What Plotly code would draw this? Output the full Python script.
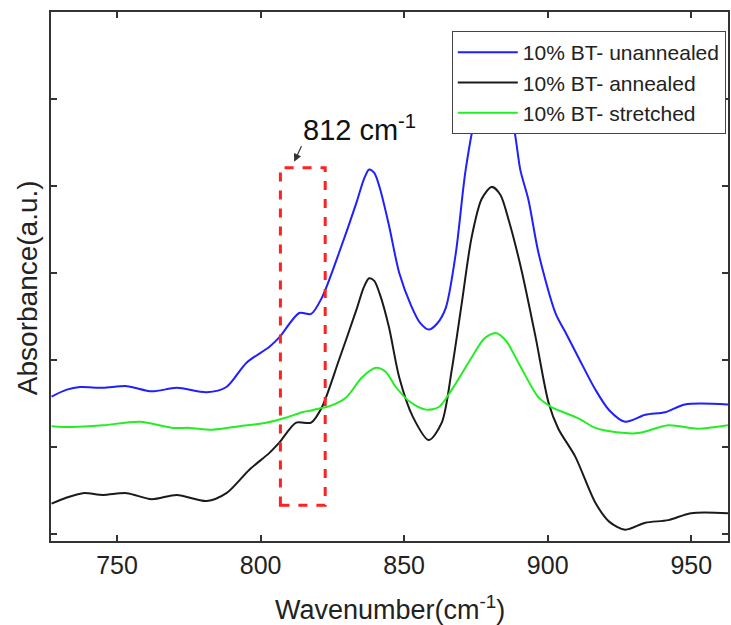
import plotly.graph_objects as go

# ---- data ----
unannealed_x = [727.2, 732.5, 737.1, 745.1, 753.4, 762.1, 770.8, 781.2, 788.1, 795.1, 803.0, 806.5,
                813.5, 817.6, 821.4, 827.3, 833.3, 836.0, 837.8, 839.6, 841.5, 844.7, 848.3, 852.5,
                855.5, 858.6, 861.5, 864.5, 868.0, 871.4, 874.9, 878.0, 881.0, 884.0, 887.4, 890.5,
                893.3, 896.8, 902.7, 906.0, 910.7, 916.6, 921.5, 927.0, 934.0, 940.9, 947.8, 962.8]
unannealed_y = [1.58, 1.66, 1.69, 1.68, 1.70, 1.64, 1.68, 1.63, 1.69, 1.97, 2.15, 2.26,
                2.54, 2.53, 2.72, 3.23, 3.80, 4.08, 4.19, 4.15, 3.98, 3.55, 3.00, 2.62,
                2.43, 2.35, 2.42, 2.60, 3.23, 4.18, 4.79, 4.97, 5.02, 4.97, 4.79, 4.18,
                3.84, 3.23, 2.54, 2.33, 2.03, 1.66, 1.42, 1.29, 1.37, 1.40, 1.49, 1.49]

annealed_x = [727.2, 732.5, 738.1, 745.1, 753.4, 762.1, 770.8, 781.2, 788.1, 796.1, 803.0, 806.5,
              812.4, 817.6, 821.4, 827.3, 833.3, 836.0, 837.8, 839.6, 841.5, 844.7, 848.3, 853.0,
              858.6, 863.1, 866.6, 870.1, 873.5, 877.0, 880.5, 883.5, 886.4, 890.9, 895.8, 900.3,
              903.7, 909.6, 916.6, 921.5, 927.0, 934.0, 942.0, 949.9, 962.8]
annealed_y = [0.35, 0.42, 0.47, 0.45, 0.47, 0.40, 0.45, 0.38, 0.47, 0.74, 0.93, 1.05,
              1.28, 1.28, 1.46, 2.00, 2.57, 2.84, 2.94, 2.91, 2.76, 2.38, 1.80, 1.35,
              1.08, 1.28, 1.89, 2.66, 3.41, 3.85, 3.99, 3.90, 3.61, 3.03, 2.26, 1.51,
              1.21, 0.89, 0.36, 0.14, 0.05, 0.13, 0.16, 0.24, 0.24]

stretched_x = [727.2, 734.6, 745.1, 757.9, 769.4, 775.3, 783.3, 792.6, 802.0, 809.0, 814.5, 817.6,
               821.4, 824.0, 829.8, 835.3, 840.2, 843.7, 847.1, 852.0, 857.6, 862.1, 866.6, 873.5,
               878.0, 881.9, 885.5, 889.8, 896.8, 901.3, 905.5, 910.7, 916.6, 924.0, 931.5, 942.0,
               952.3, 962.8]
stretched_y = [1.24, 1.23, 1.25, 1.29, 1.22, 1.22, 1.20, 1.24, 1.28, 1.34, 1.40, 1.42,
               1.45, 1.47, 1.57, 1.80, 1.91, 1.86, 1.69, 1.52, 1.43, 1.46, 1.66, 2.03,
               2.25, 2.31, 2.22, 1.97, 1.57, 1.46, 1.40, 1.33, 1.22, 1.17, 1.16, 1.25,
               1.21, 1.25]

series_names = ["10% BT- unannealed", "10% BT- annealed", "10% BT- stretched"]
series_colors = ["#1f1fff", "#1a1a1a", "#22ee22"]

x_ticks = [750, 800, 850, 900, 950]
y_ticks = [0, 1, 2, 3, 4, 5]

# highlight box around the 812 cm-1 band
box_x = [806.9, 822.5]
box_y = [0.33, 4.21]
arrow_tip = (811.7, 4.28)
label_pos = (0.455, 0.78)  # paper coords of the "812 cm-1" label

FONT = "Liberation Sans, Arial, Helvetica, sans-serif"

fig = go.Figure()
for xs, ys, name, col in zip([unannealed_x, annealed_x, stretched_x],
                             [unannealed_y, annealed_y, stretched_y],
                             series_names, series_colors):
    fig.add_trace(go.Scatter(x=xs, y=ys, mode="lines", name=name,
                             line=dict(color=col, width=2, shape="spline", smoothing=0.8)))

fig.add_shape(type="rect", x0=box_x[0], x1=box_x[1], y0=box_y[0], y1=box_y[1],
              xref="x", yref="y", line=dict(color="#ff2020", width=3, dash="dash"))

fig.add_annotation(x=arrow_tip[0], y=arrow_tip[1], xref="x", yref="y", text="",
                   showarrow=True, arrowhead=2, arrowsize=1.3, arrowwidth=1.2,
                   arrowcolor="#333", ax=8, ay=-17)
fig.add_annotation(x=label_pos[0], y=label_pos[1], xref="paper", yref="paper",
                   xanchor="center", yanchor="middle", text="812 cm<sup>-1</sup>",
                   showarrow=False, font=dict(family=FONT, size=29, color="#111"))

# axis titles as annotations for precise placement
fig.add_annotation(xref="paper", yref="paper", x=0.5, y=0, yshift=-67, yanchor="middle",
                   xanchor="center", text="Wavenumber(cm<sup>-1</sup>)", showarrow=False,
                   font=dict(family=FONT, size=27, color="#222"))
fig.add_annotation(xref="paper", yref="paper", x=0, xshift=-24, y=0.478, xanchor="center",
                   yanchor="middle", text="Absorbance(a.u.)", textangle=-90, showarrow=False,
                   font=dict(family=FONT, size=28, color="#222"))

fig.update_layout(
    width=731, height=625,
    margin=dict(l=51, r=1, t=12, b=84),
    paper_bgcolor="white", plot_bgcolor="white",
    showlegend=True,
    legend=dict(x=0.592, y=0.964, xanchor="left", yanchor="top", itemwidth=60,
                bgcolor="white", bordercolor="#444", borderwidth=1,
                font=dict(family=FONT, size=21, color="#222")),
    font=dict(family=FONT),
)
fig.update_xaxes(range=[727.0, 962.8], tickvals=x_ticks, ticks="inside", ticklen=6,
                 tickwidth=1.5, tickcolor="#333", showline=True, linecolor="#333", linewidth=2,
                 mirror="ticks", showgrid=False, zeroline=False, ticklabelstandoff=1,
                 tickfont=dict(family=FONT, size=25, color="#222"))
fig.update_yaxes(range=[-0.08, 6.0], tickvals=y_ticks, ticks="inside", ticklen=6,
                 tickwidth=1.5, tickcolor="#333", showline=True, linecolor="#333", linewidth=2,
                 mirror="ticks", showgrid=False, zeroline=False, showticklabels=False)

fig.write_html("out.html", config={"displayModeBar": False},
               post_script="document.body.style.margin='0';")
